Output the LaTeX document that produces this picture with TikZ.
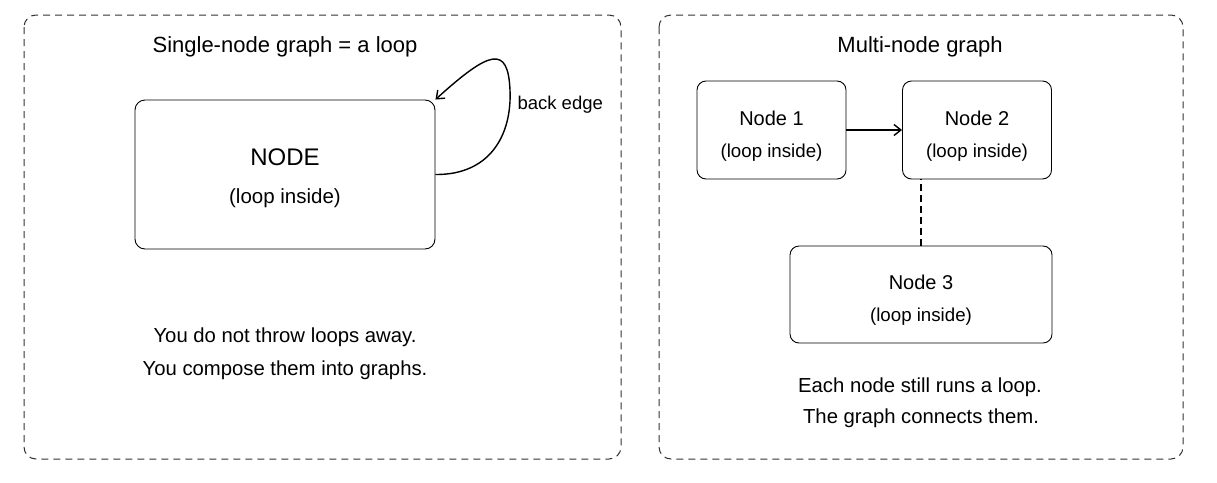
\documentclass[tikz,border=0pt]{standalone}
\usepackage{fontspec}
\setmainfont{Liberation Sans}
\usetikzlibrary{positioning, arrows.meta}

\begin{document}
\begin{tikzpicture}[
    x=1pt, y=-1pt,
    panel/.style={draw=black!80, line width=1pt, dash pattern=on 7pt off 5pt, rounded corners=12pt},
    bigbox/.style={rectangle, draw, line width=0.9pt, rounded corners=10pt, minimum width=300pt, minimum height=149pt},
    smallbox/.style={rectangle, draw, line width=0.9pt, rounded corners=9pt, minimum width=149pt, minimum height=98pt},
    title/.style={font=\fontsize{22}{26}\selectfont},
    caption/.style={font=\fontsize{20.3}{24}\selectfont},
    sub/.style={font=\fontsize{18.7}{22}\selectfont},
    arrow/.style={-{Straight Barb[length=7pt, width=11pt]}, line width=1.4pt},
    link/.style={line width=1.4pt, dash pattern=on 7pt off 4pt}
]
\useasboundingbox (0,0) rectangle (1217,482);

% Left panel
\draw[panel] (24,15) rectangle (621,459);
\node[title] (ltitle) at (285,47) {Single-node graph = a loop};

\node[bigbox] (single) at (285,174.5) {};
\node[font=\fontsize{24}{28}\selectfont] (singlename) at (285,157) {NODE};
\node[font=\fontsize{20.5}{24}\selectfont] (singleloop) at (285,198) {(loop inside)};

\coordinate (loopside) at (510,90);
\draw[arrow] (single.east) .. controls (490,175) and (512,135) .. (loopside)
    .. controls (508,45) and (490,50) .. (single.north east);
\node[font=\fontsize{18.5}{22}\selectfont, anchor=west] (backedge) at (514,105) {back edge};

\node[caption] (lcap1) at (285,337) {You do not throw loops away.};
\node[caption] (lcap2) at (285,370) {You compose them into graphs.};

% Right panel
\draw[panel] (659,15) rectangle (1183,459);
\node[title] (rtitle) at (920,47) {Multi-node graph};

\node[smallbox] (n1) at (771.5,130) {};
\node[font=\fontsize{20}{24}\selectfont] (n1name) at (771.5,118) {Node 1};
\node[sub] (n1loop) at (771.5,153) {(loop inside)};

\node[smallbox] (n2) at (977,130) {};
\node[font=\fontsize{20}{24}\selectfont] (n2name) at (977,118) {Node 2};
\node[sub] (n2loop) at (977,153) {(loop inside)};

\node[smallbox, minimum width=262pt, minimum height=97pt] (n3) at (921,294.5) {};
\node[font=\fontsize{20}{24}\selectfont] (n3name) at (921,282) {Node 3};
\node[sub] (n3loop) at (921,317) {(loop inside)};

\draw[arrow] (n1) -- (n2);
\draw[link] (n3.north) -- (n3.north |- n2.south);

\node[caption] (rcap1) at (920,387) {Each node still runs a loop.};
\node[caption] (rcap2) at (921,418) {The graph connects them.};

\end{tikzpicture}
\end{document}
